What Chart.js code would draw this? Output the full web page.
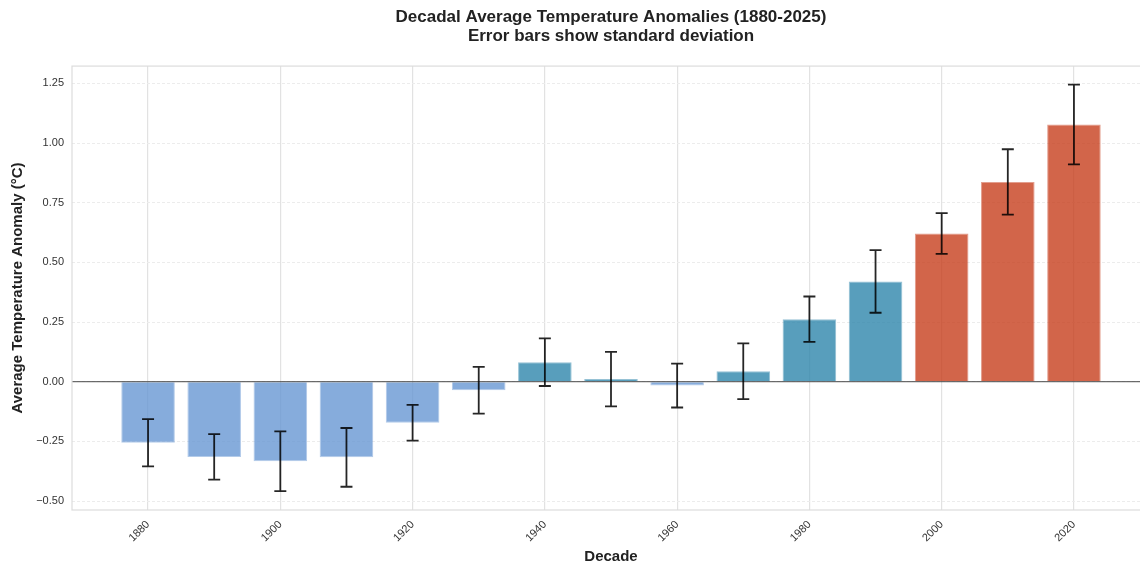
<!DOCTYPE html>
<html>
<head>
<meta charset="utf-8">
<script src="https://cdn.jsdelivr.net/npm/chart.js@4.4.0/dist/chart.umd.min.js"></script>
<style>
  html, body { margin: 0; padding: 0; background: #fff; overflow: hidden; }
  /* the reference is cropped on the right, so the plot runs a little past the window */
  #wrap { width: 1152px; height: 567px; }
</style>
</head>
<body>
<div id="wrap"><canvas id="chart"></canvas></div>
<script>
// decadal anomalies
const decades = [1880, 1890, 1900, 1910, 1920, 1930, 1940, 1950, 1960, 1970, 1980, 1990, 2000, 2010, 2020];
const means = [-0.256, -0.315, -0.333, -0.317, -0.172, -0.036, 0.082, 0.011, -0.016, 0.044, 0.262, 0.420, 0.621, 0.837, 1.078];
const stdDevs = [0.099, 0.095, 0.125, 0.123, 0.075, 0.098, 0.100, 0.114, 0.092, 0.117, 0.095, 0.131, 0.085, 0.137, 0.167];
const xTicks = [1880, 1900, 1920, 1940, 1960, 1980, 2000, 2020];
const yTicks = [-0.5, -0.25, 0, 0.25, 0.5, 0.75, 1.0, 1.25];

const FONT = '"Liberation Sans", Arial, sans-serif';

function barColor(decade, v, alpha) {
  if (decade >= 2000) return `rgba(199, 62, 29, ${alpha})`;
  if (v >= 0 || decade >= 1970) return `rgba(46, 134, 171, ${alpha})`;
  return `rgba(104, 151, 211, ${alpha})`;
}

const fillColors = decades.map((d, i) => barColor(d, means[i], 0.8));
const edgeColors = decades.map((d, i) => barColor(d, means[i], 0.5));

// zero line + frame
const framePlugin = {
  id: 'frame',
  afterDatasetsDraw(chart) {
    const { ctx, chartArea: a, scales: { y } } = chart;
    const y0 = y.getPixelForValue(0);
    ctx.save();
    ctx.strokeStyle = 'rgba(60,60,60,0.75)';
    ctx.lineWidth = 1.2;
    ctx.beginPath();
    ctx.moveTo(a.left, y0);
    ctx.lineTo(a.right, y0);
    ctx.stroke();
    ctx.strokeStyle = '#dcdcdc';
    ctx.lineWidth = 1.2;
    ctx.strokeRect(a.left, a.top, a.right - a.left, a.bottom - a.top);
    ctx.restore();
  }
};

// error bars (mean +/- standard deviation)
const errorBarPlugin = {
  id: 'errorBars',
  afterDatasetsDraw(chart) {
    const { ctx, scales: { x, y } } = chart;
    ctx.save();
    ctx.strokeStyle = 'rgba(0,0,0,0.85)';
    ctx.lineWidth = 1.8;
    decades.forEach((d, i) => {
      const px = x.getPixelForValue(d);
      const top = y.getPixelForValue(means[i] + stdDevs[i]);
      const bot = y.getPixelForValue(means[i] - stdDevs[i]);
      ctx.beginPath();
      ctx.moveTo(px, top);
      ctx.lineTo(px, bot);
      ctx.moveTo(px - 6, top);
      ctx.lineTo(px + 6, top);
      ctx.moveTo(px - 6, bot);
      ctx.lineTo(px + 6, bot);
      ctx.stroke();
    });
    ctx.restore();
  }
};

const ctx = document.getElementById('chart').getContext('2d');

new Chart(ctx, {
  type: 'bar',
  data: {
    datasets: [{
      label: 'Decadal mean',
      data: decades.map((d, i) => ({ x: d, y: means[i] })),
      backgroundColor: fillColors,
      borderColor: edgeColors,
      borderWidth: 1,
      barPercentage: 0.81,
      categoryPercentage: 1.0
    }]
  },
  options: {
    responsive: true,
    maintainAspectRatio: false,
    animation: false,
    layout: { padding: { left: 0, right: 2, top: 0, bottom: 0 } },
    plugins: {
      legend: { display: false },
      tooltip: { enabled: false },
      title: {
        display: true,
        fullSize: false,
        text: ['Decadal Average Temperature Anomalies (1880-2025)', 'Error bars show standard deviation'],
        color: '#222',
        font: { family: FONT, size: 17, weight: 'bold', lineHeight: 1.12 },
        padding: { top: 7.5, bottom: 20.5 }
      }
    },
    scales: {
      x: {
        type: 'linear',
        offset: false,
        min: 1868.5,
        max: 2031.5,
        afterBuildTicks: s => { s.ticks = xTicks.map(v => ({ value: v })); },
        afterFit: s => { s.height = 57; },
        grid: { color: '#e2e2e2', lineWidth: 1.2, drawTicks: false, offset: false },
        border: { display: false },
        ticks: {
          color: '#333',
          font: { family: FONT, size: 11 },
          minRotation: 45,
          maxRotation: 45,
          padding: 8,
          callback: v => String(v)
        },
        title: {
          display: true,
          text: 'Decade',
          color: '#222',
          font: { family: FONT, size: 15, weight: 'bold' },
          padding: { top: 0, bottom: 1 }
        }
      },
      y: {
        min: -0.5375,
        max: 1.3225,
        afterBuildTicks: s => { s.ticks = yTicks.map(v => ({ value: v })); },
        afterFit: s => { s.width = 72; },
        grid: { color: '#ececec', lineWidth: 1, drawTicks: false },
        border: { display: false, dash: [3, 2] },
        ticks: {
          color: '#333',
          font: { family: FONT, size: 11 },
          padding: 8,
          callback: v => (v < 0 ? '\u2212' : '') + Math.abs(v).toFixed(2)
        },
        title: {
          display: true,
          text: 'Average Temperature Anomaly (°C)',
          color: '#222',
          font: { family: FONT, size: 15, weight: 'bold' },
          padding: { top: 9, bottom: 0 }
        }
      }
    }
  },
  plugins: [framePlugin, errorBarPlugin]
});
</script>
</body>
</html>
